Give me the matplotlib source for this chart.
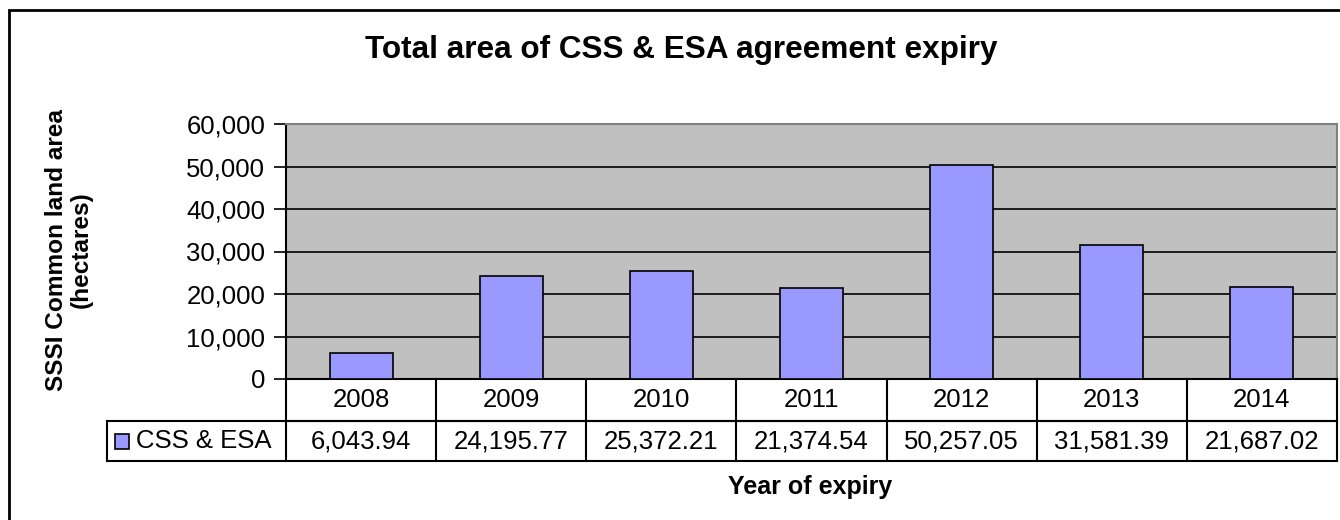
import matplotlib
matplotlib.use("Agg")
import matplotlib.pyplot as plt
from matplotlib.patches import Rectangle

# Data
years = ["2008", "2009", "2010", "2011", "2012", "2013", "2014"]
series_name = "CSS & ESA"
areas = [6043.94, 24195.77, 25372.21, 21374.54, 50257.05, 31581.39, 21687.02]
y_ticks = [0, 10000, 20000, 30000, 40000, 50000, 60000]

title = "Total area of CSS & ESA agreement expiry"
y_label = "SSSI Common land area\n(hectares)"
x_label = "Year of expiry"

plt.rcParams["font.family"] = ["Liberation Sans", "DejaVu Sans"]

W, H = 1340, 520
fig = plt.figure(figsize=(W / 100, H / 100), dpi=100)
fig.patch.set_facecolor("white")

# Outer chart frame (left and top edges visible)
fig.add_artist(Rectangle((8.5 / W, -0.1), 1.2, 1 - 9.5 / H + 0.1,
                         transform=fig.transFigure, fill=False,
                         edgecolor="#000000", linewidth=2.0))

left_px, right_px, top_px, bottom_px = 286, 1337, 124, 379
ax = fig.add_axes([left_px / W, 1 - bottom_px / H,
                   (right_px - left_px) / W, (bottom_px - top_px) / H])
ax.set_facecolor("#C0C0C0")

n = len(years)
x = list(range(n))
ax.bar(x, areas, width=0.42, color="#9999FF", edgecolor="#000000",
       linewidth=1.2, zorder=3)

body_fs = 18.5
ax.set_xlim(-0.5, n - 0.5)
ax.set_ylim(0, 60000)
ax.set_yticks(y_ticks)
ax.set_yticklabels([f"{v:,}" for v in y_ticks], fontsize=body_fs)
ax.yaxis.grid(True, color="#000000", linewidth=1.2, zorder=1)
ax.set_axisbelow(True)
ax.tick_params(axis="y", direction="out", length=9, width=1.2, pad=6,
               colors="#000000")
ax.set_xticks([])

for side in ["top", "right"]:
    ax.spines[side].set_color("#808080")
    ax.spines[side].set_linewidth(1.5)
ax.spines["left"].set_color("#000000")
ax.spines["left"].set_linewidth(1.5)
ax.spines["bottom"].set_color("#000000")
ax.spines["bottom"].set_linewidth(1.5)

# Data table under the plot
ax_h_px = bottom_px - top_px
ax_w_px = right_px - left_px
row1 = -42 / ax_h_px
row2 = -82 / ax_h_px
legend_left = (107 - left_px) / ax_w_px
tr = ax.transAxes
lw = 1.5
line_kw = dict(color="#000000", linewidth=lw, transform=tr, clip_on=False,
               solid_capstyle="projecting")

ax.plot([0, 1], [row1, row1], **line_kw)
ax.plot([legend_left, 1], [row1, row1], **line_kw)
ax.plot([legend_left, 1], [row2, row2], **line_kw)
ax.plot([0, 0], [0, row2], **line_kw)
ax.plot([legend_left, legend_left], [row1, row2], **line_kw)
ax.plot([1, 1], [0, row2], **line_kw)
for i in range(1, n):
    xf = i / n
    ax.plot([xf, xf], [0, row2], **line_kw)

for i, (yr, v) in enumerate(zip(years, areas)):
    xc = (i + 0.5) / n
    ax.text(xc, row1 / 2, yr, transform=tr, ha="center", va="center",
            fontsize=body_fs)
    ax.text(xc, (row1 + row2) / 2, f"{v:,.2f}", transform=tr, ha="center",
            va="center", fontsize=body_fs)

# legend key in the table
key_w = 14 / ax_w_px
key_h = 15 / ax_h_px
key_x = (115 - left_px) / ax_w_px
yc = (row1 + row2) / 2
ax.add_patch(Rectangle((key_x, yc - key_h / 2), key_w, key_h, transform=tr,
                       facecolor="#9999FF", edgecolor="#000000",
                       linewidth=1.2, clip_on=False))
ax.text((136 - left_px) / ax_w_px, yc, series_name, transform=tr,
        ha="left", va="center", fontsize=body_fs)

# Titles
fig.text(681 / W, 1 - 50 / H, title, ha="center", va="center",
         fontsize=22.7, fontweight="bold")
fig.text(810 / W, 1 - 487 / H, x_label, ha="center", va="center",
         fontsize=18, fontweight="bold")
fig.text(69 / W, 1 - 250 / H, y_label, ha="center", va="center",
         rotation=90, fontsize=17.6, fontweight="bold", linespacing=1.1)

fig.savefig("out.png", dpi=100)
